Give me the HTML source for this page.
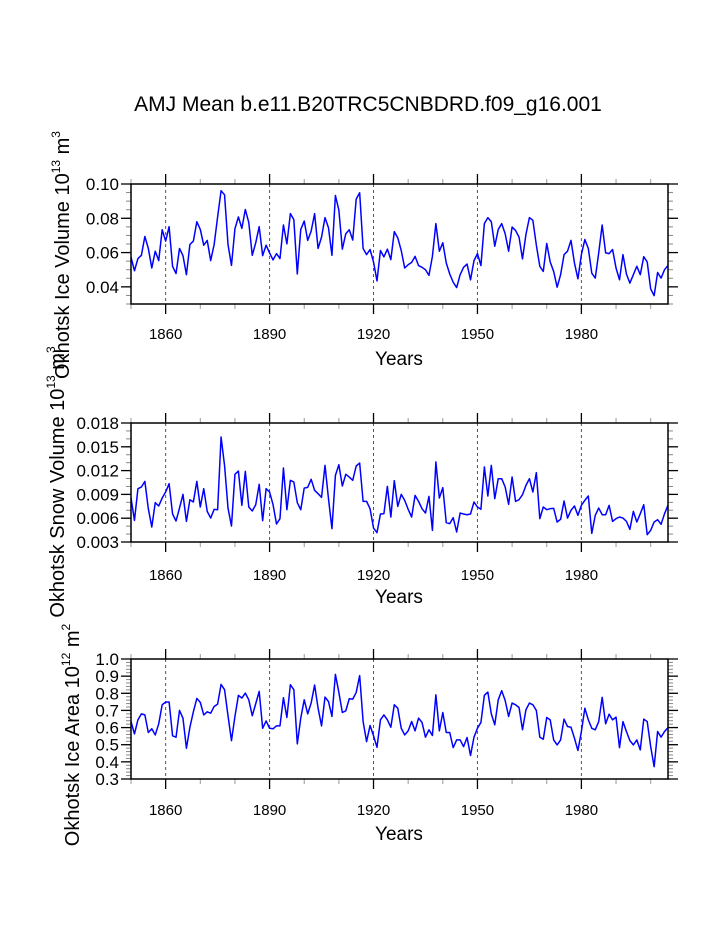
<!DOCTYPE html>
<html><head><meta charset="utf-8"><style>
html,body{margin:0;padding:0;background:#fff;}
svg{display:block;font-family:"Liberation Sans",Arial,sans-serif;}
</style></head><body>
<svg id="chart" width="723" height="935" viewBox="0 0 723 935" xmlns="http://www.w3.org/2000/svg">
<text x="368" y="111" font-size="21" text-anchor="middle">AMJ Mean b.e11.B20TRC5CNBDRD.f09_g16.001</text>
</svg>
<script>
const startYear = 1850;
const endYear = 2005;
const xMajorTicks = [1860, 1890, 1920, 1950, 1980];

const iceVolume = [0.0573,0.0494,0.0565,0.0584,0.0694,0.0624,0.0510,0.0608,0.0553,0.0733,
0.0667,0.0751,0.0520,0.0478,0.0624,0.0582,0.0471,0.0647,0.0667,0.0780,
0.0735,0.0643,0.0671,0.0553,0.0647,0.0808,0.0961,0.0937,0.0647,0.0525,
0.0739,0.0808,0.0741,0.0851,0.0775,0.0584,0.0657,0.0751,0.0582,0.0643,
0.0598,0.0557,0.0594,0.0565,0.0761,0.0651,0.0827,0.0792,0.0475,0.0735,
0.0784,0.0671,0.0725,0.0827,0.0624,0.0690,0.0804,0.0745,0.0584,0.0933,
0.0847,0.0620,0.0710,0.0733,0.0673,0.0912,0.0949,0.0624,0.0588,0.0618,
0.0545,0.0435,0.0612,0.0575,0.0620,0.0559,0.0722,0.0686,0.0612,0.0510,
0.0529,0.0543,0.0578,0.0524,0.0514,0.0500,0.0467,0.0578,0.0769,0.0608,
0.0657,0.0539,0.0475,0.0427,0.0396,0.0471,0.0514,0.0533,0.0441,0.0553,
0.0594,0.0524,0.0769,0.0804,0.0780,0.0637,0.0735,0.0769,0.0710,0.0608,
0.0749,0.0729,0.0690,0.0563,0.0706,0.0804,0.0788,0.0643,0.0520,0.0490,
0.0653,0.0545,0.0490,0.0398,0.0471,0.0588,0.0608,0.0671,0.0539,0.0447,
0.0588,0.0676,0.0624,0.0480,0.0451,0.0598,0.0761,0.0598,0.0594,0.0618,
0.0510,0.0441,0.0588,0.0475,0.0422,0.0471,0.0520,0.0471,0.0576,0.0545,
0.0388,0.0349,0.0484,0.0451,0.0500,0.0525];

const snowVolume = [0.00854,0.00573,0.00972,0.00993,0.01064,0.0072,0.00489,0.00796,0.00754,0.00854,
0.0093,0.01035,0.00653,0.00565,0.00728,0.009,0.0056,0.00833,0.00804,0.01064,
0.00741,0.00972,0.00686,0.00602,0.00712,0.00707,0.01623,0.01266,0.00728,0.00502,
0.01153,0.01195,0.00762,0.0119,0.00741,0.00691,0.0077,0.01027,0.00569,0.00972,
0.0093,0.0077,0.00527,0.00594,0.01232,0.00707,0.01077,0.01056,0.00796,0.00707,
0.0098,0.00989,0.0109,0.00951,0.00909,0.00863,0.01266,0.00846,0.00468,0.0114,
0.01274,0.01006,0.01153,0.01119,0.01077,0.01258,0.01295,0.00812,0.00812,0.0072,
0.00476,0.00418,0.00653,0.00657,0.01001,0.00615,0.01073,0.00749,0.009,0.00825,
0.00712,0.00615,0.00888,0.00812,0.0072,0.00665,0.00875,0.00447,0.01308,0.00854,
0.00985,0.00544,0.00531,0.00607,0.00426,0.00665,0.00653,0.00644,0.00653,0.00804,
0.00741,0.00712,0.01245,0.0088,0.01266,0.00846,0.01098,0.01098,0.00993,0.00775,
0.01119,0.00812,0.00833,0.00896,0.01014,0.01098,0.0093,0.01174,0.00594,0.00741,
0.00707,0.0072,0.00724,0.00552,0.00586,0.00817,0.00602,0.00699,0.00754,0.00636,
0.00762,0.00825,0.0088,0.00409,0.00636,0.00728,0.00644,0.00644,0.00762,0.0056,
0.00594,0.00615,0.00602,0.0056,0.0046,0.00686,0.00552,0.00657,0.0077,0.00392,
0.00447,0.00552,0.00581,0.00523,0.00657,0.00762];

const iceArea = [0.635,0.563,0.645,0.680,0.674,0.571,0.593,0.557,0.622,0.733,
0.749,0.749,0.552,0.544,0.700,0.655,0.479,0.602,0.692,0.770,
0.747,0.674,0.692,0.684,0.723,0.737,0.852,0.821,0.669,0.524,
0.665,0.788,0.772,0.801,0.762,0.669,0.739,0.811,0.596,0.639,
0.596,0.593,0.610,0.610,0.774,0.659,0.850,0.821,0.505,0.655,
0.762,0.680,0.743,0.848,0.713,0.610,0.778,0.752,0.665,0.910,
0.805,0.688,0.698,0.768,0.766,0.805,0.903,0.635,0.518,0.612,
0.552,0.485,0.645,0.674,0.645,0.602,0.733,0.713,0.596,0.557,
0.581,0.635,0.581,0.655,0.630,0.544,0.587,0.554,0.791,0.581,
0.688,0.571,0.571,0.483,0.528,0.528,0.489,0.542,0.437,0.544,
0.596,0.630,0.788,0.807,0.680,0.616,0.762,0.815,0.758,0.665,
0.743,0.733,0.717,0.587,0.704,0.743,0.733,0.700,0.544,0.532,
0.659,0.645,0.528,0.499,0.528,0.649,0.606,0.602,0.538,0.466,
0.577,0.713,0.645,0.596,0.587,0.635,0.776,0.622,0.678,0.645,
0.661,0.483,0.635,0.577,0.524,0.499,0.528,0.470,0.649,0.635,
0.489,0.372,0.577,0.544,0.577,0.600];

const iceVolumeTicks = [0.04, 0.06, 0.08, 0.10];
const snowVolumeTicks = [0.003, 0.006, 0.009, 0.012, 0.015, 0.018];
const iceAreaTicks = [0.3, 0.4, 0.5, 0.6, 0.7, 0.8, 0.9, 1.0];

const NS = "http://www.w3.org/2000/svg";
const svg = document.getElementById('chart');
function mk(tag, attrs, parent) {
  const e = document.createElementNS(NS, tag);
  for (const k in attrs) e.setAttribute(k, attrs[k]);
  (parent || svg).appendChild(e);
  return e;
}

const panels = [
  {key:'ice-volume', data: iceVolume, ticks: iceVolumeTicks, ymin:0.03, ymax:0.10, minor:0.005, dec:2, top:184, bottom:304, titleX:62, titleY:255, lblY:339, yrsY:365, title:['Okhotsk Ice Volume 10','13',' m','3']},
  {key:'snow-volume', data: snowVolume, ticks: snowVolumeTicks, ymin:0.003, ymax:0.018, minor:0.001, dec:3, top:423, bottom:542, titleX:57, titleY:482, lblY:580, yrsY:603, title:['Okhotsk Snow Volume 10','13',' m','3']},
  {key:'ice-area', data: iceArea, ticks: iceAreaTicks, ymin:0.3, ymax:1.0, minor:0.02, dec:1, top:659, bottom:779, titleX:72, titleY:735, lblY:815, yrsY:840, title:['Okhotsk Ice Area 10','12',' m','2']}
];
const L = 131, R = 668;
function xs(year) { return L + (year - startYear) / (endYear - startYear) * (R - L); }

panels.forEach(p => {
  const g = mk('g', {});
  
  
  const ys = v => p.bottom - (v - p.ymin) / (p.ymax - p.ymin) * (p.bottom - p.top);

  xMajorTicks.forEach(y => {
    const l = mk('line', {x1: xs(y), x2: xs(y), y1: p.top, y2: p.bottom, stroke:'#555', 'stroke-width':1, 'stroke-dasharray':'3,3'}, g);
    
    
  });
  for (let y = startYear; y <= endYear; y += 10) {
    if (xMajorTicks.indexOf(y) >= 0) continue;
    mk('line', {x1: xs(y), x2: xs(y), y1: p.bottom, y2: p.bottom + 5, stroke:'#999', 'stroke-width':1}, g);
    mk('line', {x1: xs(y), x2: xs(y), y1: p.top, y2: p.top - 5, stroke:'#999', 'stroke-width':1}, g);
  }
  xMajorTicks.forEach(y => {
    mk('line', {x1: xs(y), x2: xs(y), y1: p.bottom, y2: p.bottom + 10, stroke:'#000', 'stroke-width':1.3}, g);
    mk('line', {x1: xs(y), x2: xs(y), y1: p.top, y2: p.top - 10, stroke:'#000', 'stroke-width':1.3}, g);
    const t = mk('text', {x: xs(y), y: p.lblY, 'font-size':15, 'text-anchor':'middle'}, g);
    t.textContent = y;
    
    
  });
  const nMin = Math.round((p.ymax - p.ymin) / p.minor);
  for (let i = 0; i <= nMin; i++) {
    const v = p.ymin + i * p.minor;
    const yy = ys(v);
    mk('line', {x1: L - 5, x2: L, y1: yy, y2: yy, stroke:'#888', 'stroke-width':1}, g);
    mk('line', {x1: R, x2: R + 5, y1: yy, y2: yy, stroke:'#888', 'stroke-width':1}, g);
  }
  p.ticks.forEach(v => {
    const yy = ys(v);
    mk('line', {x1: L - 10, x2: L, y1: yy, y2: yy, stroke:'#000', 'stroke-width':1.3}, g);
    mk('line', {x1: R, x2: R + 10, y1: yy, y2: yy, stroke:'#000', 'stroke-width':1.3}, g);
    const t = mk('text', {x: 119, y: yy + 6, 'font-size':17, 'text-anchor':'end'}, g);
    t.textContent = v.toFixed(p.dec);
    
    
  });
  const pts = p.data.map((v, i) => xs(startYear + i).toFixed(2) + ',' + ys(v).toFixed(2)).join(' ');
  const line = mk('polyline', {points: pts, fill:'none', stroke:'#0000ff', 'stroke-width':1.5, 'stroke-linejoin':'round'}, g);
  
  
  const fr = mk('rect', {x: L, y: p.top, width: R - L, height: p.bottom - p.top, fill:'none', stroke:'#000', 'stroke-width':1.5}, g);
  
  
  const xt = mk('text', {x: 399, y: p.yrsY, 'font-size':19, 'text-anchor':'middle'}, g);
  xt.textContent = 'Years';
  
  
  const yt = mk('text', {x: 0, y: 0, 'font-size':20, 'text-anchor':'middle', transform:'translate(' + (p.titleX + 7) + ',' + p.titleY + ') rotate(-90)'}, g);
  
  
  const s1 = mk('tspan', {}, yt); s1.textContent = p.title[0];
  const s2 = mk('tspan', {dy:-9, 'font-size':12}, yt); s2.textContent = p.title[1];
  const s3 = mk('tspan', {dy:9}, yt); s3.textContent = p.title[2];
  const s4 = mk('tspan', {dy:-9, 'font-size':12}, yt); s4.textContent = p.title[3];
});
</script>
</body></html>
